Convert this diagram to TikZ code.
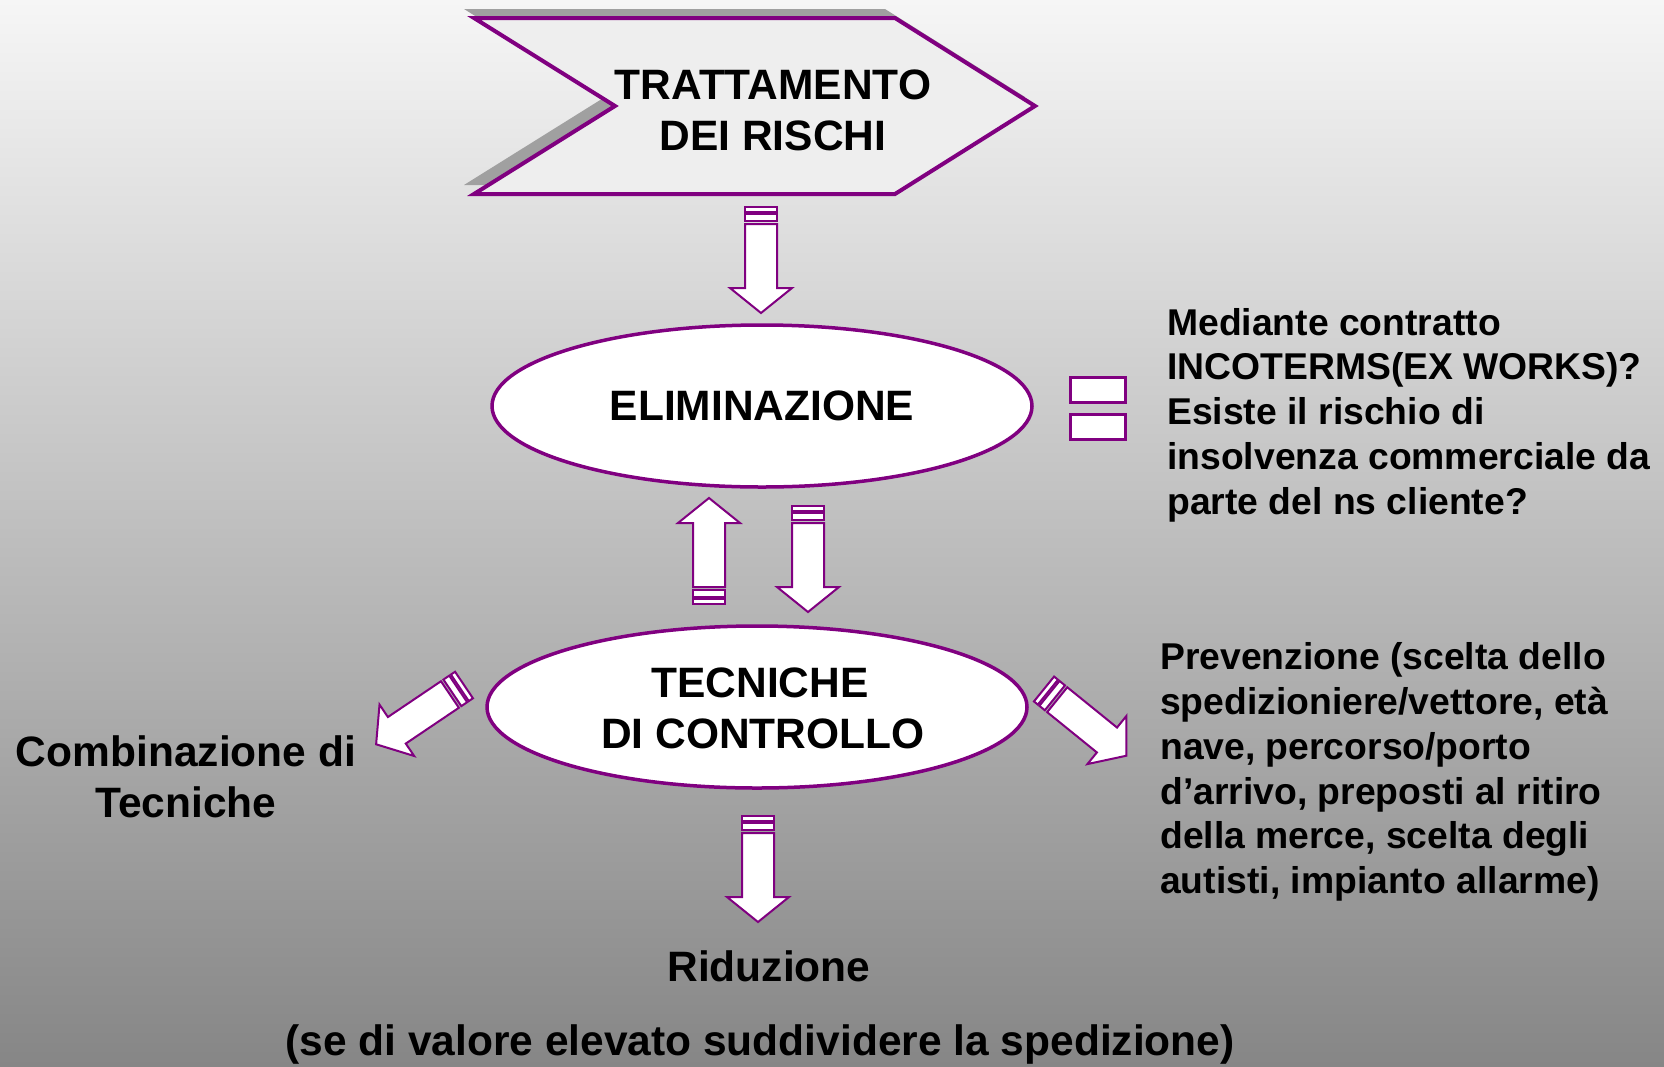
\documentclass[tikz,border=0pt]{standalone}
\usepackage{fontspec}
\setmainfont{Liberation Sans}
\usetikzlibrary{shapes.geometric}
\definecolor{purp}{RGB}{128,0,128}
\definecolor{bgtop}{RGB}{246,246,246}
\definecolor{bgbot}{RGB}{134,134,134}
\definecolor{chevfill}{RGB}{238,238,238}
\definecolor{shadowgray}{RGB}{160,160,160}
\begin{document}
\begin{tikzpicture}[x=1pt,y=-1pt,
  bigtxt/.style={font=\fontsize{42.5}{51}\selectfont\bfseries, align=center, inner sep=0pt},
  smalltxt/.style={font=\fontsize{37.3}{44.7}\selectfont\bfseries, align=left, inner sep=0pt},
  oval/.style={ellipse, draw=purp, line width=3.5pt, fill=white, minimum width=540pt,
    minimum height=162pt, inner sep=0pt, align=center, font=\fontsize{42.5}{51}\selectfont\bfseries},
  eqbar/.style={draw=purp, line width=3pt, fill=white, minimum width=55pt, minimum height=25pt, inner sep=0pt},
  arrline/.style={draw=purp, line width=2pt, fill=white, line join=miter},
  blockarrow/.pic={
    \draw[arrline] (0,-16) rectangle (5,16);
    \draw[arrline] (7,-16) rectangle (14,16);
    \draw[arrline] (17,-16) -- (81,-16) -- (81,-31) -- (106,0) -- (81,31) -- (81,16) -- (17,16) -- cycle;
  }
]
\useasboundingbox (0,0) rectangle (1664,1066);
\shade[top color=bgtop, bottom color=bgbot] (0,0) rectangle (1664,1066);

% chevron with shadow
\fill[shadowgray] (464,9) -- (885,9) -- (1025,97) -- (885,185) -- (464,185) -- (605,97) -- cycle;
\draw[draw=purp, line width=4pt, fill=chevfill, line join=miter]
  (474,18) -- (895,18) -- (1035,106) -- (895,194) -- (474,194) -- (615,106) -- cycle;
\node[bigtxt] (title) at (773,110) {TRATTAMENTO\\DEI RISCHI};

% ellipses
\node[oval] (elim) at (762,406) {ELIMINAZIONE};
\node[oval] (tecn) at (757,707) {};
\node[bigtxt] (tecntxt) at (760,708) {TECNICHE\\\hspace*{6pt}DI CONTROLLO};

% block arrows
\pic[rotate=-90] at (761,207) {blockarrow};
\pic[rotate=90] at (709,604) {blockarrow};
\pic[rotate=-90] at (808,506) {blockarrow};
\pic[rotate=-90] at (758,816) {blockarrow};
\pic[rotate=-146] at (464,685) {blockarrow};
\pic[rotate=-39] at (1044,689) {blockarrow};

% equals sign
\node[eqbar] (eq1) at (1097.5,389.5) {};
\node[eqbar] (eq2) at (1097.5,426.5) {};

% texts
\node[smalltxt, anchor=west] (elimtxt) at (1167,415) {Mediante contratto\\INCOTERMS(EX WORKS)?\\Esiste il rischio di\\insolvenza commerciale da\\parte del ns cliente?};
\node[smalltxt, anchor=west] (prevtxt) at (1160,772) {Prevenzione (scelta dello\\spedizioniere/vettore, età\\nave, percorso/porto\\d’arrivo, preposti al ritiro\\della merce, scelta degli\\autisti, impianto allarme)};
\node[bigtxt] (comb) at (186,777) {Combinazione di\\Tecniche};
\node[bigtxt] (rid) at (769,966) {Riduzione};
\node[bigtxt] (sped) at (760,1044) {(se di valore elevato suddividere la spedizione)};
\end{tikzpicture}
\end{document}
